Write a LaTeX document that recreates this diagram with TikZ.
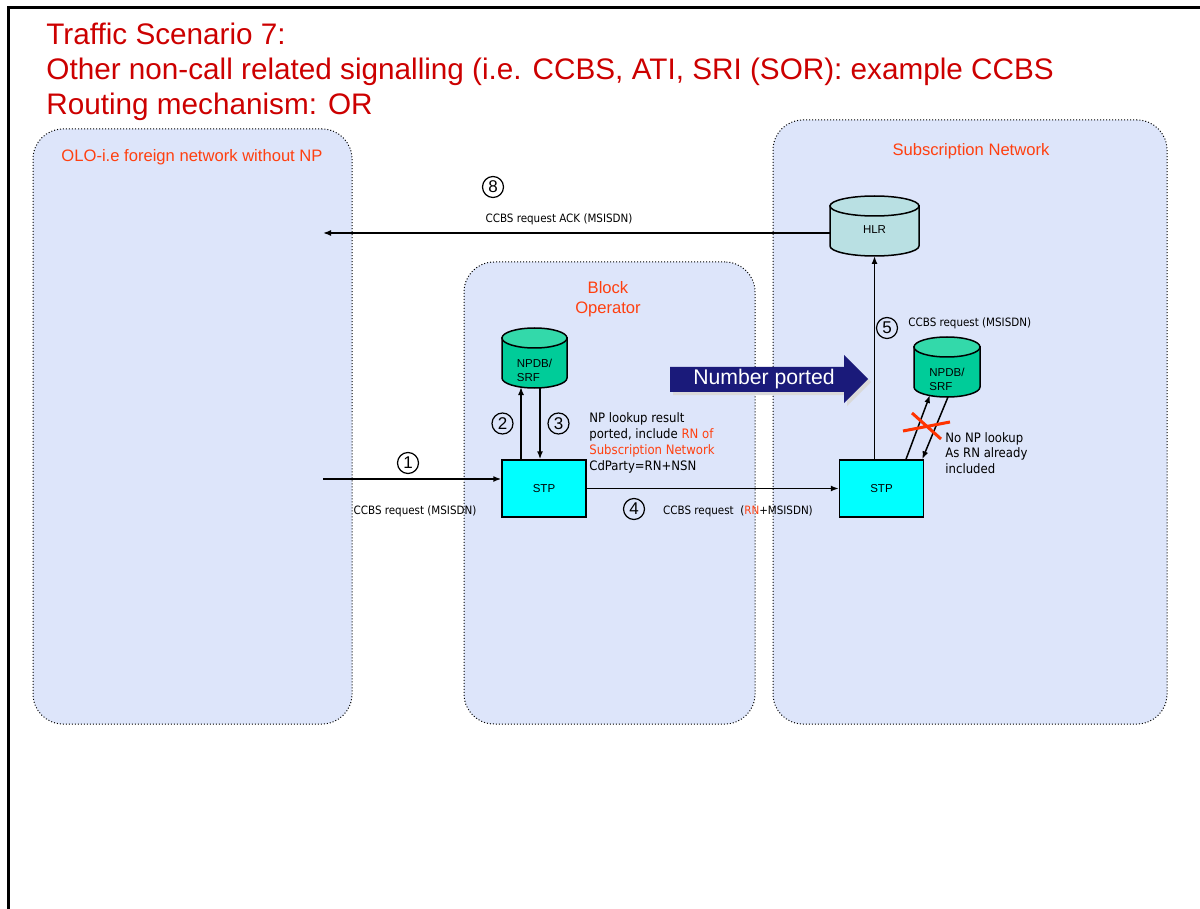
\documentclass[tikz,border=0pt]{standalone}
\usepackage{fontspec}
\setmainfont{Liberation Sans}
\newfontfamily\tahoma{DejaVu Sans Condensed}
\usetikzlibrary{arrows.meta}
\definecolor{titlered}{RGB}{204,0,0}
\definecolor{netred}{RGB}{255,64,16}
\definecolor{netfill}{RGB}{221,229,250}
\definecolor{hlrfill}{RGB}{185,224,227}
\definecolor{dbfill}{RGB}{0,204,153}
\definecolor{dbtop}{RGB}{51,217,170}
\definecolor{stpfill}{RGB}{0,255,255}
\definecolor{portnavy}{RGB}{26,26,122}
\definecolor{crossred}{RGB}{255,51,0}
% drum around a named node: node, x radius, body fill, top fill
\newcommand{\drum}[4]{%
  \filldraw[line width=0.75pt, fill=#3] ([yshift=-5pt]#1.north west) -- ([yshift=5pt]#1.south west)
    arc[start angle=180, end angle=360, x radius=#2, y radius=5pt] -- ([yshift=-5pt]#1.north east) -- cycle;
  \filldraw[line width=0.75pt, fill=#4] ([yshift=-5pt]#1.north) ellipse[x radius=#2, y radius=5pt];
}
\begin{document}
\begin{tikzpicture}[x=0.5pt,y=-0.5pt]
        \tikzset{
        title/.style={anchor=base west, inner sep=0pt, text=titlered, font=\fontsize{14.85}{17}\selectfont},
        netbox/.style={draw, densely dotted, line width=0.5pt, fill=netfill, rounded corners=15pt},
        netlabel/.style={text=netred, align=center, font=\fontsize{8.3}{10}\selectfont},
        stp/.style={draw, line width=0.75pt, fill=stpfill, minimum width=42pt, minimum height=28.5pt, font=\fontsize{5.75}{7}\selectfont},
        drum/.style={rectangle, minimum height=30pt, inner sep=0pt, outer sep=0pt},
        drumtext/.style={align=left, inner sep=0pt, font=\fontsize{5.75}{7}\selectfont},
        msg/.style={-{Latex[length=4pt,width=3pt]}, line width=0.75pt},
        msglabel/.style={inner sep=0pt, font=\tahoma\fontsize{5.75}{7}\selectfont},
        note/.style={anchor=north west, inner sep=0pt, align=left, font=\tahoma\fontsize{6.5}{8}\selectfont},
        num/.style={circle, draw, line width=0.6pt, minimum size=10.5pt, inner sep=0pt, font=\fontsize{8.5}{8.5}\selectfont}
        }
        \useasboundingbox (0,0) rectangle (1200,909);
        \draw[line width=1.5pt] (8.5,909) -- (8.5,8) -- (1200,8);

        \node[title] (t1) at (46,45) {Traffic Scenario 7:};
        \node[title] (t2) at (46,80) {Other non-call related signalling (i.e. CCBS, ATI, SRI (SOR): example CCBS};
        \node[title] (t3) at (46,115) {Routing mechanism: OR};

        % networks
        \node[netbox, minimum width=159.5pt, minimum height=297.5pt] (olo) at (192.5,426.5) {};
        \node[netbox, minimum width=145.5pt, minimum height=231pt] (blockop) at (609.5,493) {};
        \node[netbox, minimum width=197pt, minimum height=302pt] (subnet) at (970,422) {};
        \node[netlabel] (ololab) at (192,157) {OLO-i.e foreign network without NP};
        \node[netlabel] (blocklab) at (608,299) {Block\\Operator};
        \node[netlabel] (sublab) at (971,151) {Subscription Network};

        % number ported
        \fill[black!15] (673,370) -- (847,370) -- (847,358) -- (871,382) -- (847,406) -- (847,395) -- (673,395) -- cycle;
        \fill[portnavy] (670,367) -- (844,367) -- (844,355) -- (868,379) -- (844,403) -- (844,392) -- (670,392) -- cycle;
        \node[text=white, font=\fontsize{10.6}{12}\selectfont] (ported) at (764,379) {Number ported};

        % databases
        \node[drum, minimum width=32.5pt] (npdbA) at (534.5,358) {};
        \drum{npdbA}{16.25pt}{dbfill}{dbtop}
        \node[drumtext] (npdbAtext) at ([yshift=-6pt]npdbA.center) {NPDB/\\SRF};
        \node[drum, minimum width=44.5pt] (hlr) at (874.5,226) {};
        \drum{hlr}{22.25pt}{hlrfill}{hlrfill}
        \node[drumtext] (hlrtext) at ([yshift=-2pt]hlr.center) {HLR};
        \node[drum, minimum width=33pt] (npdbB) at (947,367) {};
        \drum{npdbB}{16.5pt}{dbfill}{dbtop}
        \node[drumtext] (npdbBtext) at ([yshift=-6pt]npdbB.center) {NPDB/\\SRF};

        \node[stp] (stpA) at (544,488.5) {STP};
        \node[stp] (stpB) at (881.5,488.5) {STP};
        \coordinate (in1) at (323,479);
        \coordinate (out8) at (323,233);

        \draw[msg] (in1) -- (in1 -| stpA.west);
        \draw[msg] ([xshift=-6.75pt]npdbA.south |- stpA.north) -- ([xshift=-6.75pt,yshift=0.5pt]npdbA.south);
        \draw[msg] ([xshift=2.75pt]npdbA.south) -- ([xshift=2.75pt]npdbA.south |- stpA.north);
        \draw[msg] (stpA.east) -- (stpB.west);
        \draw[msg] (stpB.north -| hlr.south) -- (hlr.south);
        \draw[msg] (hlr.west |- out8) -- (out8);
        \draw[msg] ([xshift=12.25pt]stpB.north) -- ([xshift=-8.5pt,yshift=1pt]npdbB.south);
        \draw[msg] ([xshift=0.5pt]npdbB.south) -- ([xshift=-1pt]stpB.north east);
        \draw[crossred, line width=1.5pt] (912,413) -- (941,439) (903,431) -- (950,422);

        \node[num] (n1) at (408,463) {1};
        \node[msglabel] (l1) at (415,511) {CCBS request (MSISDN)};
        \node[num] (n2) at (502.5,423.5) {2};
        \node[num] (n3) at (558.5,423.5) {3};
        \node[note] (res3) at (589,412) {NP lookup result\\ported, include \textcolor{netred}{RN of}\\\textcolor{netred}{Subscription Network}\\CdParty=RN+NSN};
        \node[num] (n4) at (634,509) {4};
        \node[msglabel] (l4) at (738,511) {CCBS request\ \ (\textcolor{netred}{RN}+MSISDN)};
        \node[num] (n5) at (887,328) {5};
        \node[msglabel, anchor=west] (l5) at (908,323) {CCBS request (MSISDN)};
        \node[num] (n8) at (493,187) {8};
        \node[msglabel] (l8) at (559,219) {CCBS request ACK (MSISDN)};
        \node[note, font=\tahoma\fontsize{6.5}{7.75}\selectfont] (nolook) at (945,432) {No NP lookup\\As RN already\\included};
\end{tikzpicture}
\end{document}
